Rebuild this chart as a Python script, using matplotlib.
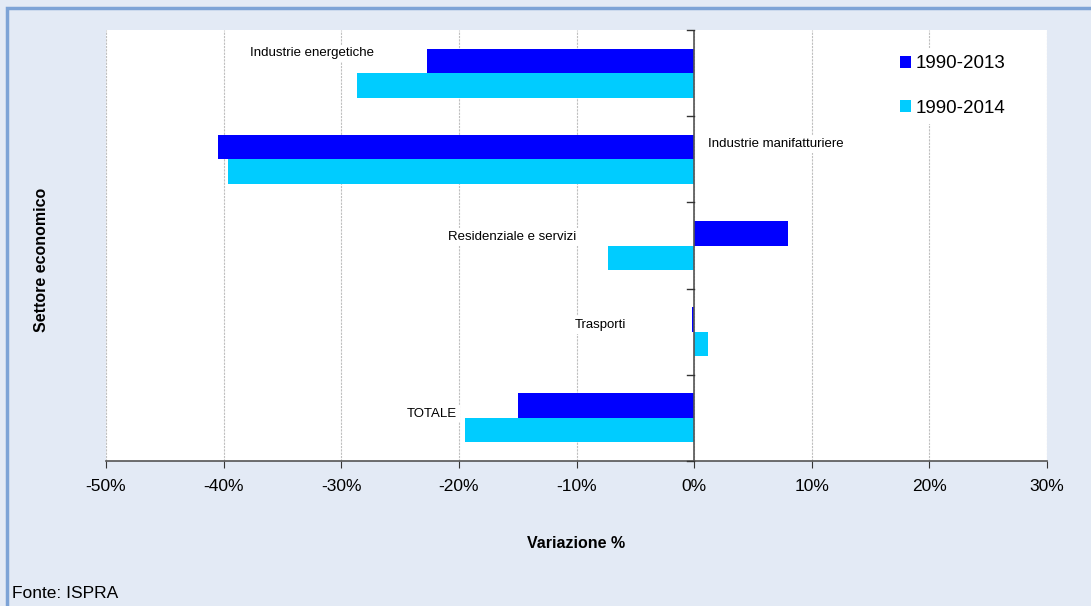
import matplotlib.pyplot as plt
import numpy as np
from matplotlib.patches import Rectangle
from matplotlib.ticker import FuncFormatter, MultipleLocator

sectors = ["Industrie energetiche", "Industrie manifatturiere",
           "Residenziale e servizi", "Trasporti", "TOTALE"]
var_1990_2013 = [-22.7, -40.5, 8.0, -0.2, -15.0]
var_1990_2014 = [-28.7, -39.6, -7.3, 1.2, -19.5]
series_labels = ["1990-2013", "1990-2014"]
colors = ["#0000FF", "#00CCFF"]

# label anchor x (in %) and alignment for each sector name
label_x = [-32.5, 1.2, -15.5, -8.0, -22.3]
label_ha = ["center", "left", "center", "center", "center"]

plt.rcParams['font.family'] = ['Liberation Sans', 'DejaVu Sans']

fig = plt.figure(figsize=(10.91, 6.06), dpi=100)
bg = "#E3EAF5"
fig.patch.set_facecolor(bg)

# outer frame
fig.patches.append(Rectangle((7 / 1091, -0.1), 1.2, 1 - 8 / 606 + 0.1,
                             transform=fig.transFigure, fill=False,
                             edgecolor="#7DA3D6", linewidth=2.5, zorder=0))

ax = fig.add_axes([106 / 1091, 1 - 461 / 606, (1047 - 106) / 1091, (461 - 30) / 606])
ax.set_facecolor("white")

n = len(sectors)
y = np.arange(n)
h = 0.285
ax.barh(y - h / 2, var_1990_2013, height=h, color=colors[0], label=series_labels[0], zorder=3)
ax.barh(y + h / 2, var_1990_2014, height=h, color=colors[1], label=series_labels[1], zorder=3)

ax.set_xlim(-50, 30)
ax.set_ylim(n - 0.5, -0.5)
ax.xaxis.set_major_locator(MultipleLocator(10))
ax.xaxis.set_major_formatter(FuncFormatter(lambda v, p: f"{v:.0f}%"))
ax.grid(axis="x", color="#BFBFBF", linestyle=(0, (2, 1)), linewidth=0.8, zorder=0)

for s in ["top", "right", "left"]:
    ax.spines[s].set_visible(False)
ax.spines["bottom"].set_color("#555555")
ax.spines["bottom"].set_linewidth(1.2)

# category axis drawn at zero
ax.axvline(0, color="#555555", linewidth=1.2, zorder=4)
ax.set_yticks([])
for b in np.arange(-0.5, n, 1.0):
    ax.plot([-0.6, 0], [b, b], color="#333333", linewidth=1, zorder=4, clip_on=False)

ax.tick_params(axis="x", length=5, color="#333333", labelsize=12.5, pad=8)

offsets = [-0.23, -0.18, -0.10, -0.08, -0.05]
for i, name in enumerate(sectors):
    ax.text(label_x[i], i + offsets[i], name, ha=label_ha[i], va="center",
            fontsize=9.5, zorder=5,
            bbox=dict(facecolor="white", edgecolor="none", pad=2))

ax.set_xlabel("Variazione %", fontsize=11.5, fontweight="bold", labelpad=30)
fig.text(42 / 1091, 1 - 260 / 606, "Settore economico", rotation=90, ha="center",
         va="center", fontsize=11.5, fontweight="bold")

leg = ax.legend(loc="upper left", bbox_to_anchor=(0.826, 0.98), frameon=True,
                fontsize=13.5, handlelength=0.6, handleheight=0.6, handletextpad=0.2,
                labelspacing=1.45, borderaxespad=0.5)
leg.get_frame().set_facecolor("white")
leg.get_frame().set_edgecolor("none")
leg.get_frame().set_alpha(1)

fig.text(12 / 1091, 1 - 593 / 606, "Fonte: ISPRA", ha="left", va="center",
         fontsize=12.5, family=["Liberation Sans Narrow", "Liberation Sans", "DejaVu Sans"])

fig.savefig("out.png", dpi=100, facecolor=bg)
